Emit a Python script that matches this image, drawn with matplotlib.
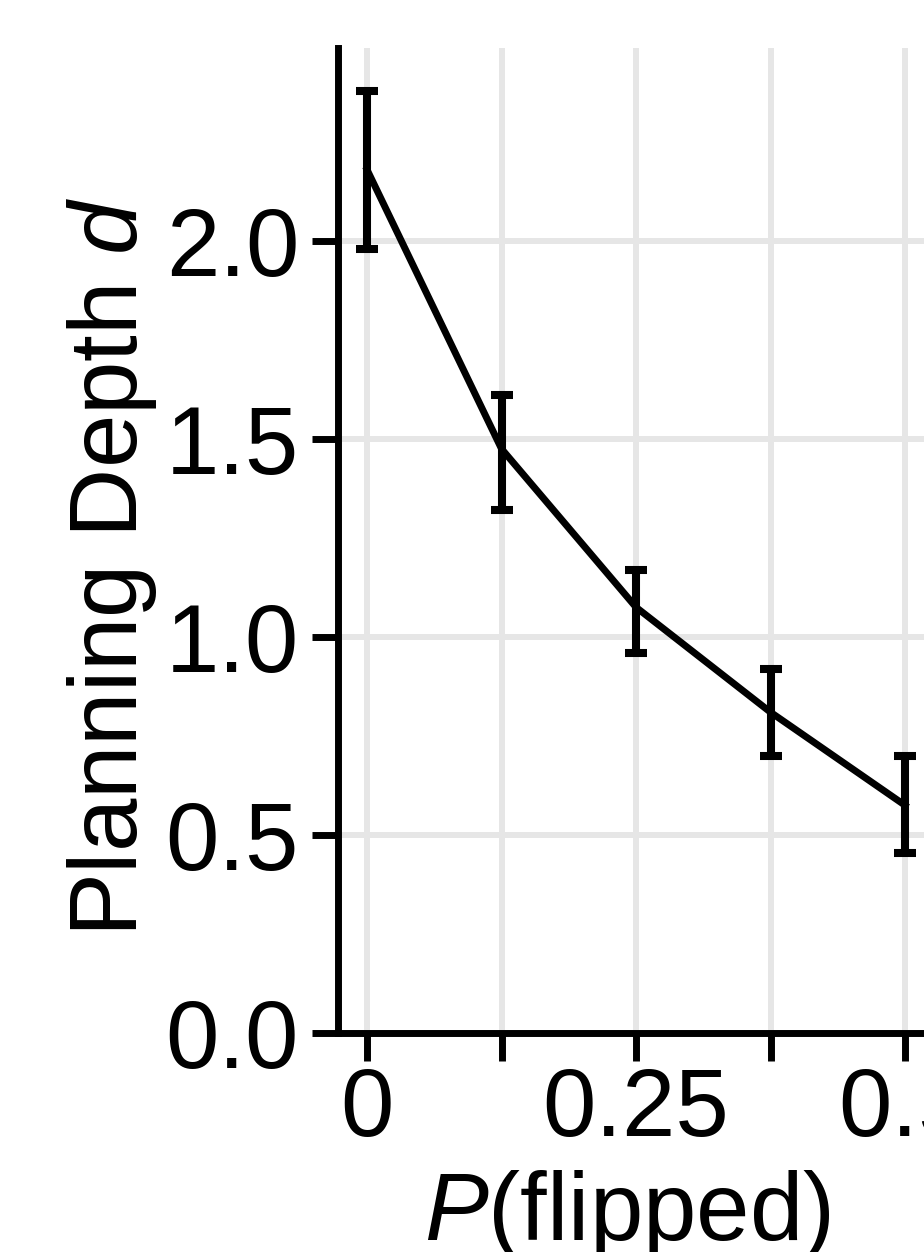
import matplotlib.pyplot as plt
import numpy as np

# values
p_flipped = [0.0, 0.125, 0.25, 0.375, 0.5]
depth_mean = [2.18, 1.475, 1.075, 0.81, 0.575]
depth_low = [1.98, 1.32, 0.96, 0.70, 0.455]
depth_high = [2.38, 1.61, 1.17, 0.92, 0.70]
x_ticks = [0.0, 0.125, 0.25, 0.375, 0.5]
x_tick_labels = ["0", "", "0.25", "", "0.5"]
y_ticks = [0.0, 0.5, 1.0, 1.5, 2.0]
y_tick_labels = ["0.0", "0.5", "1.0", "1.5", "2.0"]

plt.rcParams['font.family'] = ['Liberation Sans', 'DejaVu Sans']
plt.rcParams['mathtext.fontset'] = 'custom'
plt.rcParams['mathtext.rm'] = 'Liberation Sans'
plt.rcParams['mathtext.it'] = 'Liberation Sans:italic'

W, H = 924, 1252
fig = plt.figure(figsize=(W / 100, H / 100), dpi=100)

# axes runs a little past the right edge of the picture, as in the reference
xlim = (-0.027, 0.52)
px_per_unit = 1076
ax_left, ax_bottom, ax_top = 338, 1033, 48
ax_w = (xlim[1] - xlim[0]) * px_per_unit
ax = fig.add_axes([ax_left / W, (H - ax_bottom) / H, ax_w / W, (ax_bottom - ax_top) / H])

mean = np.array(depth_mean)
yerr = [mean - np.array(depth_low), np.array(depth_high) - mean]
ax.plot(p_flipped, depth_mean, color='black', lw=5, zorder=3)
ax.errorbar(p_flipped, depth_mean, yerr=yerr, fmt='none', ecolor='black',
            elinewidth=5.8, capsize=8, capthick=5.8, zorder=3)

ax.set_xlim(*xlim)
ax.set_ylim(0, (ax_bottom - ax_top) / 396)
ax.set_xticks(x_ticks)
ax.set_xticklabels(x_tick_labels)
ax.set_yticks(y_ticks)
ax.set_yticklabels(y_tick_labels)

ax.grid(True, color='#e6e6e6', lw=4.3)
ax.set_axisbelow(True)
for side in ['top', 'right']:
    ax.spines[side].set_visible(False)
for side in ['left', 'bottom']:
    ax.spines[side].set_linewidth(5)

ax.tick_params(axis='both', direction='out', width=5, labelsize=69, colors='black')
ax.tick_params(axis='y', length=19, pad=9)
ax.tick_params(axis='x', length=20, pad=4)

ax.set_xlabel(r'$P$(flipped)', fontsize=69)
ax.xaxis.set_label_coords(627 / W, (H - 1240) / H, transform=fig.transFigure)
ax.xaxis.label.set_va('baseline')
ax.set_ylabel(r'Planning Depth $d$', fontsize=69)
ax.yaxis.set_label_coords(137 / W, (H - 567) / H, transform=fig.transFigure)
ax.yaxis.label.set_va('baseline')

fig.savefig('out.png', dpi=100)
